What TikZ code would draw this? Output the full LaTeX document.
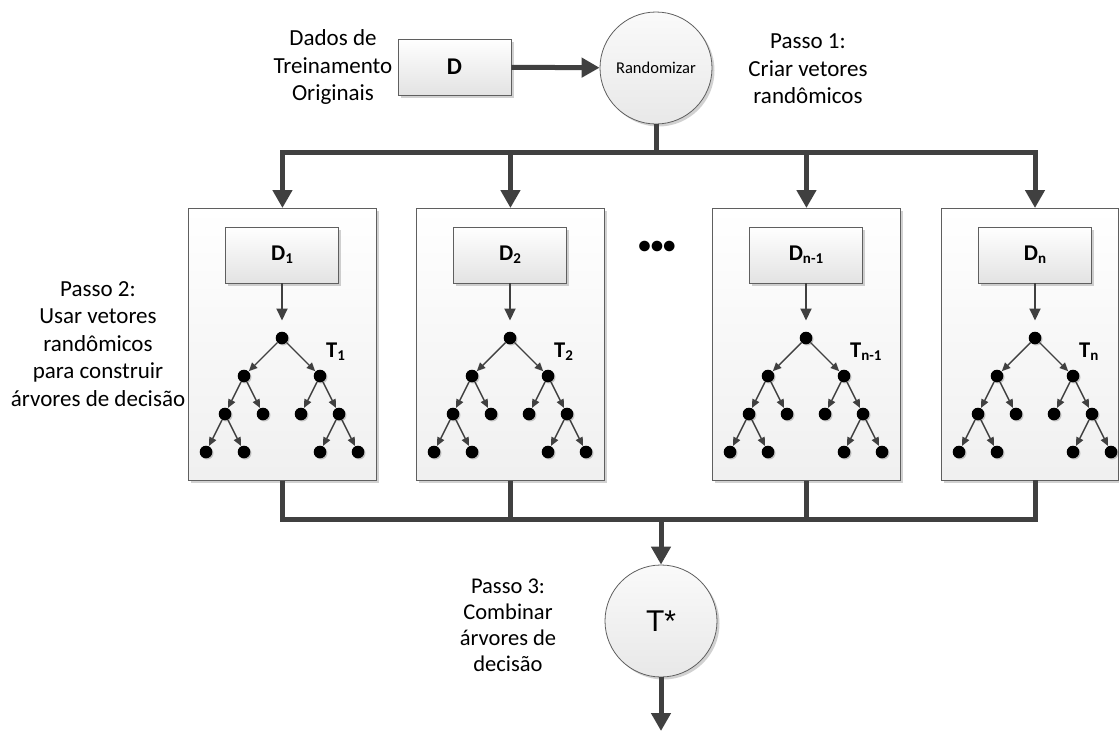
\documentclass[tikz,border=0pt]{standalone}
\usepackage{fontspec}
\setmainfont{Carlito}
\newfontfamily\arialfont{Liberation Sans}
\usetikzlibrary{arrows.meta,shadows}

\definecolor{ink}{RGB}{64,64,64}
\definecolor{frame}{RGB}{95,95,95}

% subscript used in the D_i and T_i labels
\newcommand\lowsub[1]{\raisebox{-0.3ex}{\fontsize{15}{15}\selectfont #1}}

\tikzset{
  softshadow/.style={drop shadow={shadow xshift=2.5pt,shadow yshift=-2.5pt,fill=black,opacity=0.18}},
  panel/.style={draw=frame,line width=0.9pt,top color=white,bottom color=black!6,
    minimum width=188pt,minimum height=272pt,inner sep=0pt,anchor=north west,softshadow},
  dbox/.style={draw=frame,line width=0.9pt,top color=white,bottom color=black!11,
    minimum width=113pt,minimum height=56pt,inner sep=0pt,softshadow,
    font=\fontsize{22.5}{26}\selectfont\bfseries},
  bigcirc/.style={circle,draw=frame,line width=0.8pt,top color=black!2,bottom color=black!9,
    minimum size=112pt,inner sep=0pt,softshadow},
  dot/.style={circle,fill=black,minimum size=12.6pt,inner sep=0pt,
    drop shadow={shadow xshift=1.2pt,shadow yshift=-1.2pt,fill=black,opacity=0.2}},
  bus/.style={draw=ink,line width=5pt,line join=miter},
  busarrow/.style={bus,-{Triangle[width=19pt,length=18pt]}},
  feed/.style={draw=ink,line width=2pt,-{Triangle[width=11pt,length=12pt]}},
  edge/.style={draw=ink,line width=1.4pt,-{Triangle[width=7.5pt,length=8.5pt]},shorten >=0.3pt},
  note/.style={align=center,font=\fontsize{23}{27.5}\selectfont},
  tlab/.style={anchor=west,font=\fontsize{22.5}{26}\selectfont\bfseries,inner sep=0pt},
}

% one decision tree: #1 name prefix, #2 centre x, #3 label
\newcommand\dtree[3]{%
  \node[dot] (#1r) at (#2,338) {};
  \node[dot] (#1a) at (#2-38,376) {};
  \node[dot] (#1b) at (#2+38,376) {};
  \node[dot] (#1aa) at (#2-57,414) {};
  \node[dot] (#1ab) at (#2-19,414) {};
  \node[dot] (#1ba) at (#2+19,414) {};
  \node[dot] (#1bb) at (#2+57,414) {};
  \node[dot] (#1aaa) at (#2-76,452) {};
  \node[dot] (#1aab) at (#2-38,452) {};
  \node[dot] (#1bba) at (#2+38,452) {};
  \node[dot] (#1bbb) at (#2+76,452) {};
  \foreach \u/\v in {r/a,r/b,a/aa,a/ab,b/ba,b/bb,aa/aaa,aa/aab,bb/bba,bb/bbb}
    \draw[edge] (#1\u) -- (#1\v);
  \node[tlab] (#1lab) at (#2+44,352) {#3};
}

\begin{document}
\begin{tikzpicture}[x=1pt,y=-1pt]
\useasboundingbox (0,0) rectangle (1119,731);
\clip (0,0) rectangle (1119,731);

% top row: data set and randomiser
\node[note] (dados) at (333,67) {Dados de\\Treinamento\\Originais};
\node[dbox,font=\fontsize{24}{28}\selectfont\bfseries] (D) at (454.5,67) {D};
\node[bigcirc,font=\fontsize{16.5}{20}\selectfont] (rand) at (656,68) {Randomizar};
\node[note] (passo1) at (808,69) {Passo 1:\\Criar vetores\\randômicos};
\draw[busarrow] (D) -- (rand);

% the four sample panels
\node[panel] (p1) at (188,208) {};
\node[panel] (p2) at (416,208) {};
\node[panel] (p3) at (712,208) {};
\node[panel,minimum width=177pt] (p4) at (941,208) {};
\coordinate (p4top) at (1035,208);
\coordinate (p4bot) at (1035,480);

\node[note] (passo2) at (98,344) {Passo 2:\\Usar vetores\\randômicos\\para construir\\árvores de decisão};
\node[font=\fontsize{25}{25}\selectfont\bfseries] (ell) at (657,247) {•••};

\node[dbox] (d1) at (282,255) {D\lowsub{1}};
\node[dbox] (d2) at (510,255) {D\lowsub{2}};
\node[dbox] (d3) at (806,255) {D\lowsub{n-1}};
\node[dbox] (d4) at (1035,255) {D\lowsub{n}};

\dtree{t1}{282}{T\lowsub{1}}
\dtree{t2}{510}{T\lowsub{2}}
\dtree{t3}{806}{T\lowsub{n-1}}
\dtree{t4}{1035}{T\lowsub{n}}

\draw[feed,shorten >=11pt] (d1) -- (t1r);
\draw[feed,shorten >=11pt] (d2) -- (t2r);
\draw[feed,shorten >=11pt] (d3) -- (t3r);
\draw[feed,shorten >=11pt] (d4) -- (t4r);

% distribution bus from the randomiser
\coordinate (busT) at (656,152);
\draw[bus] (rand.south) -- (busT);
\draw[busarrow] (busT) -| (p1.north);
\draw[busarrow] (busT) -| (p2.north);
\draw[busarrow] (busT) -| (p3.north);
\draw[busarrow] (busT) -| (p4top);

% collecting bus into the combiner
\coordinate (busB) at (661,519);
\draw[bus] (p1.south) |- (busB);
\draw[bus] (p2.south) |- (busB);
\draw[bus] (p3.south) |- (busB);
\draw[bus] (p4bot) |- (busB);

\node[bigcirc] (tstar) at (661,621) {\arialfont\fontsize{30}{36}\selectfont T*};
\node[note,font=\fontsize{22.5}{26}\selectfont] (passo3) at (508,625) {Passo 3:\\Combinar\\árvores de\\decisão};
\draw[busarrow] (busB) -- (tstar);
\coordinate (out) at (661,731);
\draw[busarrow] (tstar) -- (out);
\end{tikzpicture}
\end{document}
